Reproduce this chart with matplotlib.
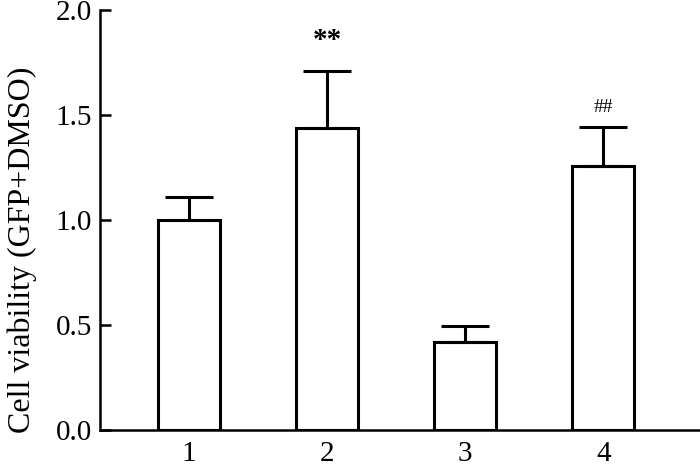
import matplotlib
matplotlib.use("Agg")
import matplotlib.pyplot as plt

categories = ["1", "2", "3", "4"]
values = [1.0, 1.44, 0.42, 1.26]
errors = [0.11, 0.27, 0.075, 0.185]
marks = ["", "**", "", "##"]
yticks = [0.0, 0.5, 1.0, 1.5, 2.0]

plt.rcParams['font.family'] = ['Liberation Serif', 'DejaVu Serif']

fig = plt.figure(figsize=(7, 4.66), dpi=100)
ax = fig.add_axes([0.143, 0.077, 0.857, 0.901])

x = list(range(1, len(categories) + 1))
ax.bar(x, values, width=0.45, color='white', edgecolor='black', linewidth=2.2,
       yerr=[[0] * len(errors), errors], capsize=17,
       error_kw=dict(ecolor='black', elinewidth=2.2, capthick=2.2), zorder=2)

for xi, v, e, m in zip(x, values, errors, marks):
    if m == "**":
        ax.text(xi, v + e + 0.08, m, ha='center', va='bottom', fontsize=21, fontweight='bold')
    elif m:
        ax.text(xi, v + e + 0.05, m, ha='center', va='bottom', fontsize=14)

ax.set_xlim(0.355, 4.7)
ax.set_ylim(0, 2.0)
ax.set_yticks(yticks)
ax.set_yticklabels([f"{t:.1f}" for t in yticks], fontsize=21)
ax.set_xticks(x)
ax.set_xticklabels(categories, fontsize=21)
ax.tick_params(axis='x', length=0, pad=8)
ax.tick_params(axis='y', direction='in', length=8, width=1.8, pad=6)
ax.spines['top'].set_visible(False)
ax.spines['right'].set_visible(False)
for s in ['left', 'bottom']:
    ax.spines[s].set_linewidth(1.8)
ax.set_ylabel("Cell viability (GFP+DMSO)", fontsize=23)
ax.yaxis.set_label_coords(-0.105, 0.43)

fig.savefig("out.png", dpi=100)
